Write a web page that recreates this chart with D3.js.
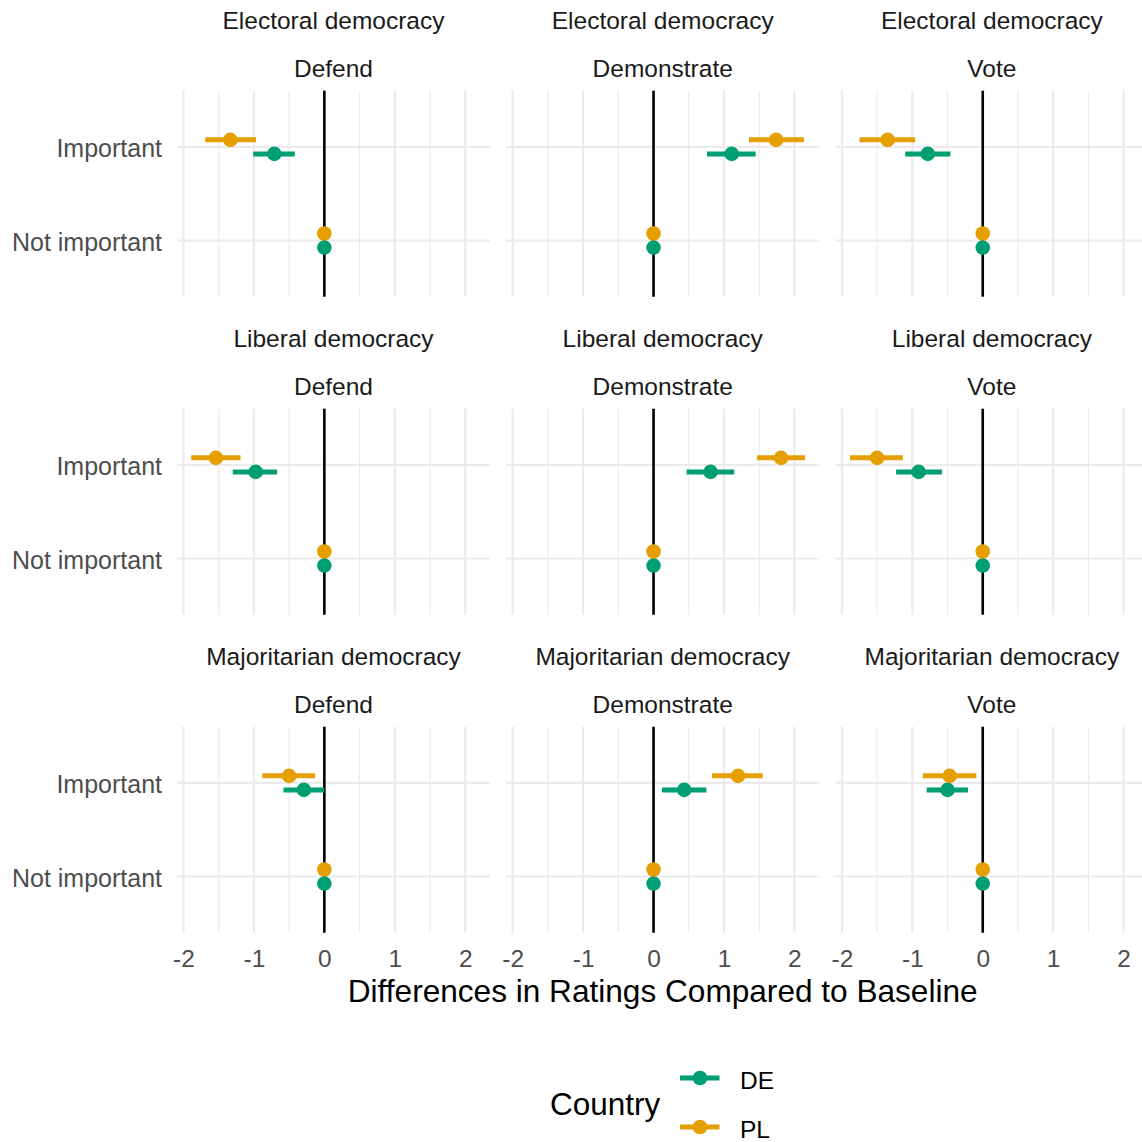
<!DOCTYPE html>
<html>
<head>
<meta charset="utf-8">
<script src="https://cdn.jsdelivr.net/npm/d3@7"></script>
<style>
  html, body { margin: 0; padding: 0; background: #ffffff; }
  svg { display: block; font-family: "Liberation Sans", Arial, sans-serif; }
</style>
</head>
<body>
<div id="chart"></div>
<script>
// Facet rows (democracy model) and columns (outcome)
const models = ["Electoral democracy", "Liberal democracy", "Majoritarian democracy"];
const outcomes = ["Defend", "Demonstrate", "Vote"];
const levels = ["Important", "Not important"];
const countries = ["DE", "PL"];
const countryColors = ["#009E73", "#E69F00"];
const xTicks = [-2, -1, 0, 1, 2];
const xMinor = [-1.5, -0.5, 0.5, 1.5];

// Effect of "Important" vs baseline; rows = models, columns = outcomes
const deEstimate = [[-0.71, 1.11, -0.78], [-0.975, 0.81, -0.91], [-0.29, 0.435, -0.50]];
const deLower    = [[-1.01, 0.76, -1.10], [-1.30, 0.47, -1.23], [-0.58, 0.12, -0.795]];
const deUpper    = [[-0.42, 1.45, -0.46], [-0.67, 1.145, -0.58], [0.0, 0.75, -0.21]];
const plEstimate = [[-1.335, 1.74, -1.35], [-1.54, 1.81, -1.50], [-0.50, 1.20, -0.47]];
const plLower    = [[-1.69, 1.355, -1.75], [-1.89, 1.47, -1.885], [-0.88, 0.83, -0.85]];
const plUpper    = [[-0.97, 2.135, -0.96], [-1.19, 2.15, -1.135], [-0.13, 1.55, -0.09]];
// "Not important" is the reference level
const baselineValue = 0;

// Long-format rows built from the arrays above
const rows = [];
models.forEach((m, r) => {
  outcomes.forEach((o, c) => {
    const est = [deEstimate, plEstimate], lo = [deLower, plLower], hi = [deUpper, plUpper];
    countries.forEach((cty, k) => {
      rows.push({ model: m, outcome: o, country: cty, level: "Important",
        est: est[k][r][c], lo: lo[k][r][c], hi: hi[k][r][c] });
      rows.push({ model: m, outcome: o, country: cty, level: "Not important",
        est: baselineValue, lo: baselineValue, hi: baselineValue });
    });
  });
});

const W = 1142, H = 1142;
const svg = d3.select("#chart").append("svg").attr("width", W).attr("height", H);

// Layout of the 3x3 grid
const panelW = 313, panelH = 206;
const panelLeft0 = 177, panelTop0 = 90.7;
const colStep = 329.2, rowStep = 318;

// Shared x scale with 5% expansion on each side
const xmin = d3.min(rows, d => d.lo), xmax = d3.max(rows, d => d.hi);
const pad = (xmax - xmin) * 0.05;
const x = d3.scaleLinear().domain([xmin - pad, xmax + pad]).range([0, panelW]);
const y = d3.scalePoint().domain(levels).range([0, panelH]).padding(0.6);
const color = d3.scaleOrdinal().domain(countries).range(countryColors);
const dodge = d3.scalePoint().domain(["PL", "DE"]).range([-0.075, 0.075]);

const gridCol = "#EBEBEB";

models.forEach((m, r) => {
  outcomes.forEach((o, c) => {
    const left = panelLeft0 + c * colStep, top = panelTop0 + r * rowStep;
    const g = svg.append("g").attr("transform", `translate(${left},${top})`);

    // Minor and major vertical grid
    g.selectAll(".minor").data(xMinor).join("line")
      .attr("x1", d => x(d)).attr("x2", d => x(d))
      .attr("y1", 0).attr("y2", panelH)
      .attr("stroke", gridCol).attr("stroke-width", 1.2);
    g.selectAll(".major").data(xTicks).join("line")
      .attr("x1", d => x(d)).attr("x2", d => x(d))
      .attr("y1", 0).attr("y2", panelH)
      .attr("stroke", gridCol).attr("stroke-width", 2.2);
    g.selectAll(".hgrid").data(levels).join("line")
      .attr("x1", 0).attr("x2", panelW)
      .attr("y1", d => y(d)).attr("y2", d => y(d))
      .attr("stroke", gridCol).attr("stroke-width", 2.2);

    // Reference line at zero
    g.append("line")
      .attr("x1", x(0)).attr("x2", x(0)).attr("y1", 0).attr("y2", panelH)
      .attr("stroke", "#000").attr("stroke-width", 2.6);

    const sub = rows.filter(d => d.model === m && d.outcome === o);
    const step = y.step();
    const yy = d => y(d.level) + dodge(d.country) * step;

    countries.forEach(cty => {
      const s = sub.filter(d => d.country === cty);
      g.selectAll(null).data(s.filter(d => d.hi > d.lo)).join("line")
        .attr("x1", d => x(d.lo)).attr("x2", d => x(d.hi))
        .attr("y1", yy).attr("y2", yy)
        .attr("stroke", color(cty)).attr("stroke-width", 5);
      g.selectAll(null).data(s).join("circle")
        .attr("cx", d => x(d.est)).attr("cy", yy).attr("r", 7.3)
        .attr("fill", color(cty));
    });

    // Two-line strip label
    const strip = svg.append("g").attr("fill", "#1A1A1A")
      .attr("font-size", 24.5).attr("text-anchor", "middle");
    strip.append("text").attr("x", left + panelW / 2).attr("y", top - 62).text(m);
    strip.append("text").attr("x", left + panelW / 2).attr("y", top - 14).text(o);

    // Category labels on the first column
    if (c === 0) {
      const ya = g.append("g").call(d3.axisLeft(y).tickSize(0).tickPadding(15));
      ya.select(".domain").remove();
      ya.selectAll("text").attr("font-size", 25).attr("fill", "#4D4D4D")
        .attr("dy", "0.4em")
        .attr("font-family", "Liberation Sans, Arial, sans-serif");
    }
    // Numeric ticks on the bottom row
    if (r === models.length - 1) {
      const xa = g.append("g").attr("transform", `translate(0,${panelH})`)
        .call(d3.axisBottom(x).tickValues(xTicks).tickFormat(d => String(d))
          .tickSize(0).tickPadding(16.5));
      xa.select(".domain").remove();
      xa.selectAll("text").attr("font-size", 24.5).attr("fill", "#4D4D4D")
        .attr("font-family", "Liberation Sans, Arial, sans-serif");
    }
  });
});

// Axis title
svg.append("text")
  .attr("x", panelLeft0 + (2 * colStep + panelW) / 2).attr("y", 1002)
  .attr("text-anchor", "middle").attr("font-size", 31.6).attr("fill", "#000")
  .text("Differences in Ratings Compared to Baseline");

// Legend
const legend = svg.append("g");
legend.append("text").attr("x", 550).attr("y", 1115)
  .attr("font-size", 31.5).attr("fill", "#000").text("Country");
countries.forEach((cty, i) => {
  const cy = 1078 + i * 49;
  legend.append("line").attr("x1", 680).attr("x2", 719.5)
    .attr("y1", cy).attr("y2", cy)
    .attr("stroke", color(cty)).attr("stroke-width", 5);
  legend.append("circle").attr("cx", 700).attr("cy", cy).attr("r", 7.3)
    .attr("fill", color(cty));
  legend.append("text").attr("x", 740).attr("y", cy + 11)
    .attr("font-size", 24.5).attr("fill", "#000").text(cty);
});
</script>
</body>
</html>
